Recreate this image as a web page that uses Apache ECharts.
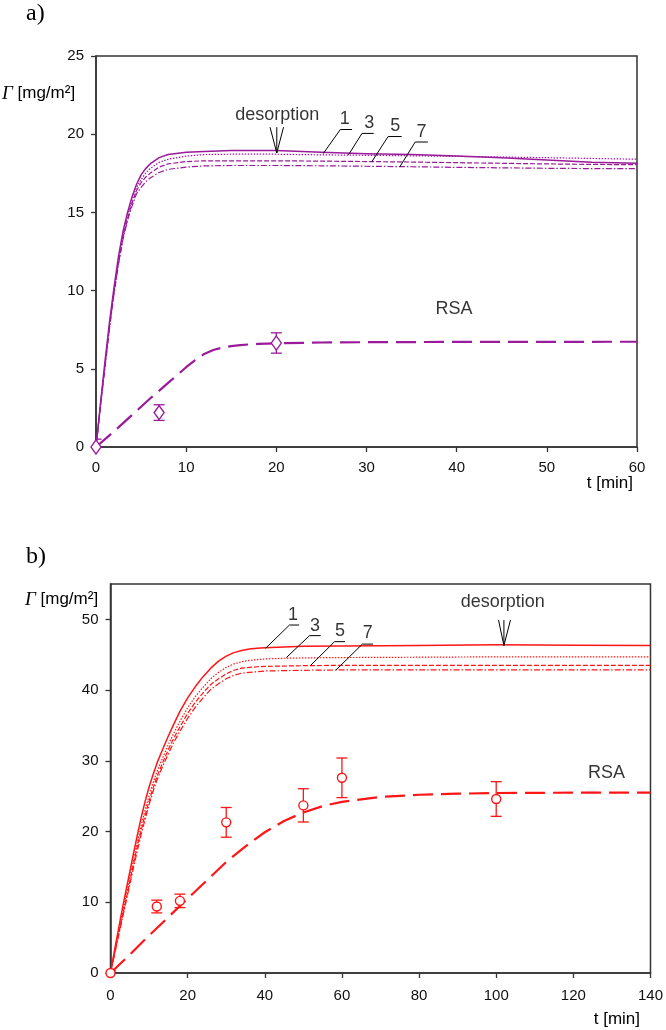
<!DOCTYPE html>
<html><head><meta charset="utf-8">
<script src="https://cdn.jsdelivr.net/npm/echarts@6/dist/echarts.min.js"></script>
<style>html,body{margin:0;padding:0;background:#fff}#c{width:666px;height:1030px}</style>
</head><body><div id="c"></div>
<script>
// ---------- Panel a ----------
const tA = [0,0.5,1,1.5,2,2.5,3,3.5,4,4.5,5,5.5,6,7,8,10,12,15,20,25,30,35,40,45,50,55,60];
const a1 = [0,2.8,5.5,8,10.2,12.2,13.8,15,16,16.8,17.4,17.8,18.1,18.5,18.7,18.85,18.9,18.95,18.95,18.85,18.75,18.7,18.6,18.5,18.35,18.2,18.15];
const a3 = [0,2.7,5.3,7.8,10,12,13.6,14.8,15.8,16.6,17.1,17.5,17.8,18.2,18.4,18.6,18.7,18.72,18.72,18.68,18.65,18.62,18.58,18.54,18.5,18.45,18.4];
const a5 = [0,2.7,5.2,7.7,9.9,11.8,13.4,14.6,15.6,16.4,16.9,17.25,17.5,17.9,18.1,18.25,18.3,18.3,18.3,18.28,18.25,18.22,18.18,18.14,18.1,18.07,18.05];
const a7 = [0,2.6,5.1,7.6,9.8,11.7,13.3,14.5,15.4,16.2,16.6,16.95,17.2,17.55,17.75,17.9,17.97,18.0,18.0,17.98,17.95,17.92,17.88,17.85,17.82,17.8,17.8];
const tRsaA = [0,2,4,6,8,10,11,12,13,14,15,16,17,18,20,25,30,40,60];
const rsaA = [0,1.0,2.05,3.1,4.1,5.1,5.55,5.95,6.2,6.35,6.45,6.51,6.56,6.59,6.63,6.68,6.7,6.72,6.73];
const ptTA = [0,7,20];
const ptVA = [0,2.2,6.65];
const ptEA = [0.5,0.5,0.65];
const xTicksA = {min:0, max:60, interval:10};
const yTicksA = {min:0, max:25, interval:5};

// ---------- Panel b ----------
const tB = [0,1,2,3,4,5,6,7,8,9,10,11,12,13.5,15,16.5,18,20,22,24,26,28,30,32,34,36,38,40,45,50,60,80,100,120,140];
const b1 = [0,3.1,6,8.9,11.6,14.3,17,19.6,22.1,24.3,26.3,28,29.6,31.6,33.5,35.3,37,38.9,40.5,41.9,43.1,44.1,44.8,45.3,45.6,45.8,45.9,46.0,46.1,46.2,46.25,46.3,46.4,46.35,46.3];
const b3 = [0,2.8,5.5,8.2,10.8,13.5,16.1,18.6,21,23.1,25,26.8,28.4,30.4,32.3,34,35.6,37.5,39.1,40.4,41.6,42.5,43.2,43.7,44.0,44.2,44.3,44.4,44.5,44.55,44.6,44.65,44.7,44.7,44.7];
const b5 = [0,2.6,5.2,7.8,10.3,12.9,15.5,18,20.3,22.4,24.3,26.1,27.7,29.7,31.6,33.3,34.8,36.7,38.3,39.6,40.8,41.6,42.3,42.8,43.1,43.2,43.3,43.35,43.4,43.45,43.5,43.5,43.5,43.5,43.5];
const b7 = [0,2.5,5,7.5,10,12.5,15,17.4,19.7,21.8,23.8,25.6,27.2,29.2,31,32.7,34.2,36,37.6,38.9,40.1,40.9,41.6,42.1,42.4,42.5,42.6,42.7,42.75,42.8,42.85,42.85,42.85,42.85,42.85];
const tRsaB = [0,5,10,15,19,25,30,35,40,45,50,55,60,70,80,90,100,120,140];
const rsaB = [0,2.6,5.3,7.9,10,13.1,15.7,17.9,19.9,21.5,22.7,23.6,24.2,24.9,25.2,25.35,25.45,25.5,25.5];
const ptTB = [0,12,18,30,50,60,100];
const ptVB = [0,9.4,10.2,21.3,23.7,27.6,24.6];
const ptEB = [0.3,0.9,0.95,2.1,2.35,2.8,2.45];
const xTicksB = {min:0, max:140, interval:20};
const yTicksB = {min:0, max:55, interval:10};

// ---------- annotations (data coordinates) ----------
const curveNames = ['1','3','5','7'];
const leadersA = [
  [[25.2,18.76],[27.1,20.3],[28.4,20.3]],
  [[28.0,18.68],[29.5,20.05],[30.8,20.05]],
  [[30.6,18.25],[32.4,19.85],[33.9,19.85]],
  [[33.7,17.92],[35.4,19.5],[36.8,19.5]]
];
const labelPosA = [[27.6,20.95],[30.3,20.7],[33.2,20.5],[36.1,20.15]];
const arrowA = {tip:[20.05,18.8], top:20.45, left:19.3, right:20.8, text:[20.1,21.2]};
const rsaLabelA = [39.7,8.8];

const leadersB = [
  [[40.2,45.9],[46.4,49.2],[48.9,49.2]],
  [[45.6,44.6],[51.6,47.7],[54.5,47.7]],
  [[51.9,43.5],[58.1,46.85],[60.8,46.85]],
  [[58.4,42.8],[65.3,46.5],[68.1,46.5]]
];
const labelPosB = [[47.3,50.6],[53.0,49.1],[59.5,48.3],[66.7,48.0]];
const arrowB = {tip:[102,46.3], top:49.9, left:100.6, right:103.7, text:[101.7,52.4]};
const rsaLabelB = [128.6,28.3];

const PURPLE = '#9a1a9a';
const RED = '#ff1515';
const FONT = 'Liberation Sans, Arial, sans-serif';

function zip(t, v){ return t.map((x,i)=>[x, v[i]]); }

function curve(idx, t, v, color, type, width){
  return {type:'line', xAxisIndex:idx, yAxisIndex:idx, data:zip(t,v), showSymbol:false,
    smooth:false, silent:true, z:3, clip:true,
    lineStyle:{color:color, width:width, type:type, cap:'butt', join:'round'}};
}
function errSeries(idx, ts, vs, es, color){
  return {type:'custom', xAxisIndex:idx, yAxisIndex:idx, clip:true, silent:true, z:4,
    data: ts.map((t,i)=>[t, vs[i]-es[i], vs[i]+es[i]]),
    renderItem(params, api){
      const lo = api.coord([api.value(0), api.value(1)]);
      const hi = api.coord([api.value(0), api.value(2)]);
      const w = 5.5;
      const style = {stroke:color, lineWidth:1.3, fill:null};
      return {type:'group', children:[
        {type:'line', shape:{x1:lo[0],y1:lo[1],x2:hi[0],y2:hi[1]}, style},
        {type:'line', shape:{x1:lo[0]-w,y1:lo[1],x2:lo[0]+w,y2:lo[1]}, style},
        {type:'line', shape:{x1:hi[0]-w,y1:hi[1],x2:hi[0]+w,y2:hi[1]}, style}
      ]};
    }};
}
function points(idx, ts, vs, color, symbol, size){
  return {type:'scatter', xAxisIndex:idx, yAxisIndex:idx, data:zip(ts,vs), symbol:symbol,
    symbolSize:size, silent:true, z:6, clip:false,
    itemStyle:{color:'#fff', borderColor:color, borderWidth:1.4, opacity:1}};
}
function leaderLines(idx, segs){
  return {type:'lines', coordinateSystem:'cartesian2d', xAxisIndex:idx, yAxisIndex:idx,
    polyline:true, silent:true, z:7, data: segs.map(s=>({coords:s})),
    lineStyle:{color:'#000', width:1, opacity:1}};
}
function arrowLines(idx, a){
  const segs = [
    [[a.left,a.top],a.tip],[[a.tip[0],a.top],a.tip],[[a.right,a.top],a.tip]
  ];
  return leaderLines(idx, segs);
}
function textLabels(idx, items, size){
  return {type:'scatter', xAxisIndex:idx, yAxisIndex:idx, symbolSize:0, silent:true, z:8, clip:false,
    data: items.map(it=>({name:it[0], value:it[1]})),
    label:{show:true, position:'inside', formatter:'{b}', color:'#000', fontFamily:FONT,
      fontSize:size, align:'center', verticalAlign:'middle'}};
}

function xAxis(idx, tk, margin){
  return {type:'value', gridIndex:idx, min:tk.min, max:tk.max, interval:tk.interval,
    axisLine:{show:true, onZero:false, lineStyle:{color:'#333', width:1.5}},
    axisTick:{show:true, inside:false, length:5, lineStyle:{color:'#333', width:1.3}},
    axisLabel:{color:'#111', fontSize:15, fontFamily:FONT, margin:margin},
    splitLine:{show:false}};
}
function yAxis(idx, tk, showMax){
  return {type:'value', gridIndex:idx, min:tk.min, max:tk.max, interval:tk.interval,
    axisLine:{show:true, onZero:false, lineStyle:{color:'#333', width:1.5}},
    axisTick:{show:true, inside:false, length:5, lineStyle:{color:'#333', width:1.3}},
    axisLabel:{color:'#111', fontSize:15, fontFamily:FONT, margin:12, showMaxLabel:showMax},
    splitLine:{show:false}};
}

const chart = echarts.init(document.getElementById('c'), null, {renderer:'canvas'});
chart.setOption({
  animation:false,
  backgroundColor:'#fff',
  grid:[
    {left:96, top:56, width:541, height:391, show:true, borderColor:'#333', borderWidth:1.5, backgroundColor:'transparent'},
    {left:110.5, top:584, width:542.5, height:389, show:true, borderColor:'#333', borderWidth:1.5, backgroundColor:'transparent'}
  ],
  xAxis:[xAxis(0,xTicksA,13), xAxis(1,xTicksB,15)],
  yAxis:[yAxis(0,yTicksA,true), yAxis(1,yTicksB,false)],
  graphic:[
    {type:'text', left:26, top:2, style:{text:'a)', font:'24px "Liberation Serif", serif', fill:'#000'}},
    {type:'text', left:26, top:545, style:{text:'b)', font:'24px "Liberation Serif", serif', fill:'#000'}},
    {type:'text', left:2, top:84, style:{text:'{g|Γ} [mg/m²]', font:'17px "Liberation Sans", Arial, sans-serif', fill:'#000',
      rich:{g:{fontFamily:'Liberation Serif', fontStyle:'italic', fontSize:19, fill:'#000'}}}},
    {type:'text', left:25, top:590, style:{text:'{g|Γ} [mg/m²]', font:'17px "Liberation Sans", Arial, sans-serif', fill:'#000',
      rich:{g:{fontFamily:'Liberation Serif', fontStyle:'italic', fontSize:19, fill:'#000'}}}},
    {type:'text', right:33, top:475, style:{text:'t [min]', font:'17px "Liberation Sans", Arial, sans-serif', fill:'#000'}},
    {type:'text', right:26, top:1011, style:{text:'t [min]', font:'17px "Liberation Sans", Arial, sans-serif', fill:'#000'}}
  ],
  series:[
    curve(0, tA, a7, PURPLE, [6,2,1.5,2], 1.2),
    curve(0, tA, a5, PURPLE, [5,2], 1.2),
    curve(0, tA, a3, PURPLE, [1.5,1.5], 1.2),
    curve(0, tA, a1, PURPLE, 'solid', 1.5),
    curve(0, tRsaA, rsaA, PURPLE, [20,8], 2.2),
    errSeries(0, ptTA, ptVA, ptEA, PURPLE),
    points(0, ptTA, ptVA, PURPLE, 'diamond', [10,14]),
    leaderLines(0, leadersA),
    arrowLines(0, arrowA),
    textLabels(0, curveNames.map((n,i)=>[n, labelPosA[i]]), 18),
    textLabels(0, [['desorption', arrowA.text], ['RSA', rsaLabelA]], 18),

    curve(1, tB, b7, RED, [6,2,1.5,2], 1.2),
    curve(1, tB, b5, RED, [5,2], 1.2),
    curve(1, tB, b3, RED, [1.5,1.5], 1.2),
    curve(1, tB, b1, RED, 'solid', 1.5),
    curve(1, tRsaB, rsaB, RED, [20,8], 2.2),
    errSeries(1, ptTB, ptVB, ptEB, RED),
    points(1, ptTB, ptVB, RED, 'circle', 9),
    leaderLines(1, leadersB),
    arrowLines(1, arrowB),
    textLabels(1, curveNames.map((n,i)=>[n, labelPosB[i]]), 18),
    textLabels(1, [['desorption', arrowB.text], ['RSA', rsaLabelB]], 18)
  ]
});
</script></body></html>
